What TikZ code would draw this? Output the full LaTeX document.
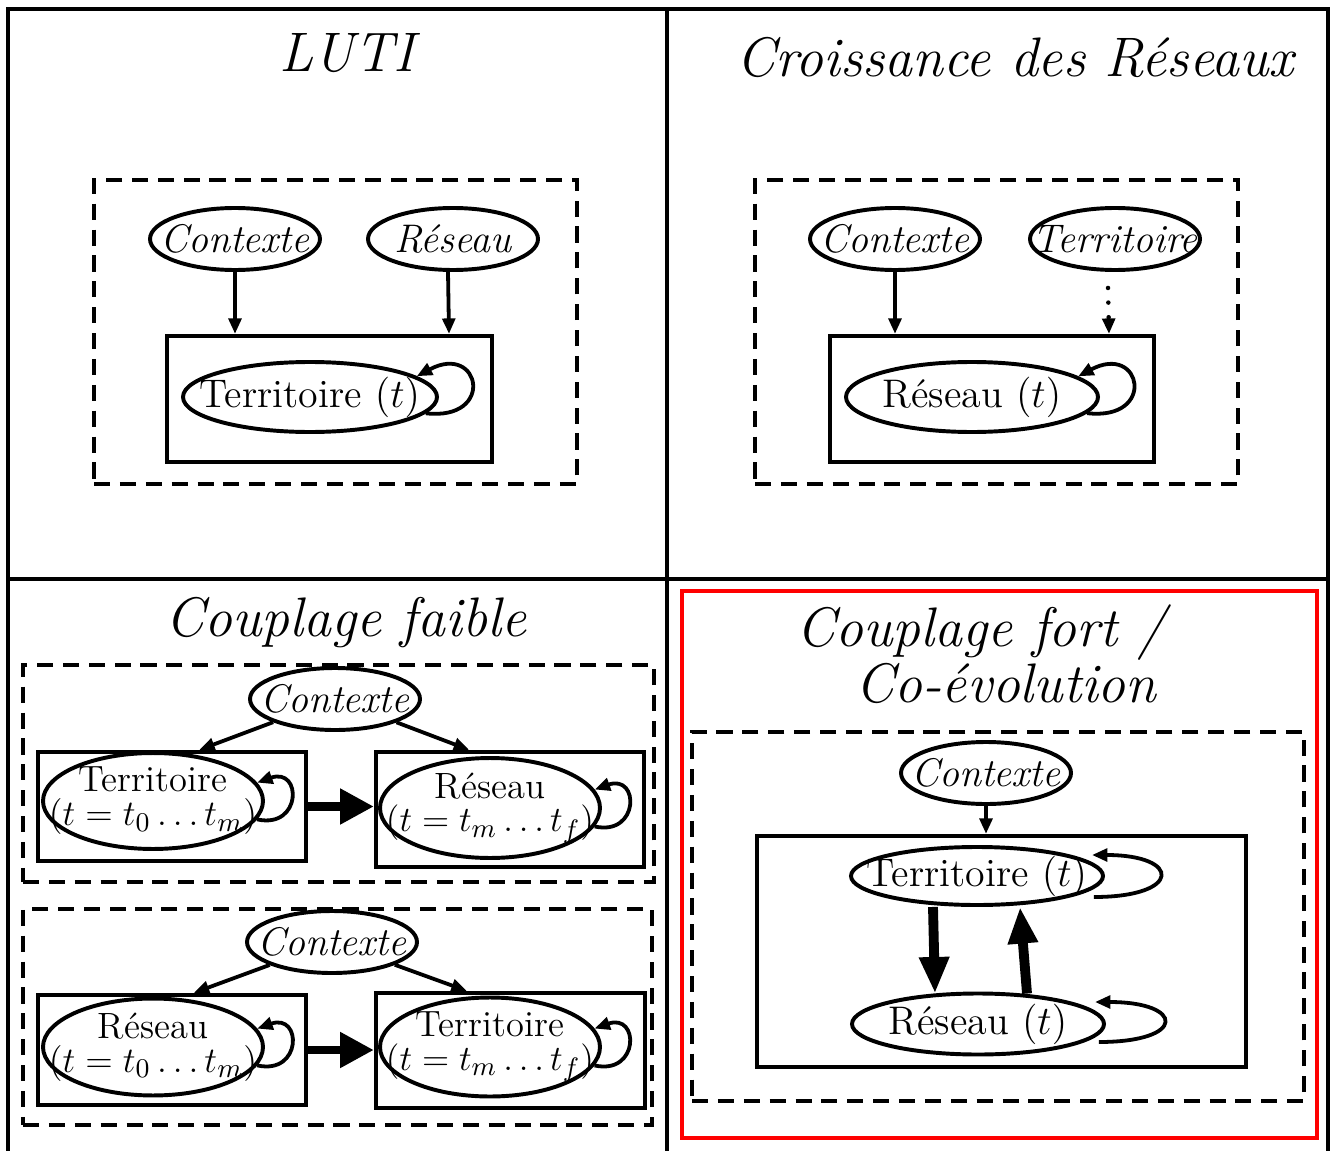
\documentclass[tikz,border=0pt]{standalone}
\usepackage{fontspec}
\usetikzlibrary{arrows.meta,calc,shapes.geometric}
\newcommand{\etiq}[1]{\makebox[0pt]{#1}}
\newcommand{\periode}[2]{\etiq{\raisebox{1.5pt}{\begin{tabular}{@{}c@{}}#1\\\resizebox{2.6cm}{!}{$#2$}\end{tabular}}}}
\begin{document}
\begin{tikzpicture}[x=0.0125cm, y=-0.0125cm,
    cadre/.style={line width=1.1pt},
    bloc/.style={draw, rectangle, inner sep=0pt, line width=1.4pt, dash pattern=on 5.7pt off 3.5pt},
    sys/.style={draw, rectangle, inner sep=0pt, line width=1.5pt},
    var/.style={draw, ellipse, inner sep=0pt, line width=1.4pt, font=\fontsize{14.2}{16}\selectfont},
    var2/.style={var, font=\fontsize{13}{8.3}\selectfont},
    sz/.style 2 args={minimum width=#1*0.0125cm, minimum height=#2*0.0125cm},
    titre/.style={anchor=base, font=\fontsize{19.8}{23}\selectfont\itshape},
    lien/.style={line width=1.35pt, -{Triangle[length=5.5pt,width=4.5pt]}},
    pointille/.style={line width=1.6pt, dash pattern=on 0pt off 5.2pt, line cap=round},
    couplage/.style={line width=3pt, -{Triangle[length=12pt,width=12pt]}},
    fort/.style={line width=3.5pt, -{Triangle[length=13pt,width=10pt]}}]
    \useasboundingbox (0,0) rectangle (1335,1151);

    % grille
    \draw[cadre] (8,1151) -- (8,9) -- (1328,9) -- (1328,1151);
    \draw[cadre] (667,9) -- (667,1151);
    \draw[cadre] (8,579) -- (1328,579);
    \draw[red, line width=1.2pt] (682,591) rectangle (1317,1138);

    % LUTI
    \node[titre] (tLuti) at (347,72) {LUTI};
    \node[bloc, sz={483}{304}] (blocA) at (335.5,332) {};
    \node[var, sz={170}{62}] (ctxA) at (235,239) {\etiq{\itshape Contexte}};
    \node[var, sz={170}{62}] (resA) at (453,239) {\etiq{\itshape Réseau}};
    \node[sys, sz={325}{126}] (sysA) at (329.5,399) {};
    \node[var, sz={254}{70}] (terA) at (310,397) {\etiq{Territoire $(t)$}};
    \draw[lien] (ctxA) -- (ctxA |- sysA.north);
    \draw[lien] ($(resA.south)+(-5,0)$) -- ($(resA |- sysA.north)+(-4,0)$);
    \draw[lien] (terA.-8) .. controls +(70,8) and +(64,-34) .. (terA.11);

    % Croissance des reseaux
    \node[titre] (tCroiss) at (1015,77) {Croissance des Réseaux};
    \node[bloc, sz={483}{304}] (blocB) at (996.5,332) {};
    \node[var, sz={170}{62}] (ctxB) at (895,239) {\etiq{\itshape Contexte}};
    \node[var, sz={170}{62}] (terB) at (1115,239) {\etiq{\itshape Territoire}};
    \node[sys, sz={324}{126}] (sysB) at (992,399) {};
    \node[var, sz={252}{70}] (resB) at (972,397) {\etiq{Réseau $(t)$}};
    \draw[lien] (ctxB) -- (ctxB |- sysB.north);
    \draw[lien, pointille] ($(terB.south)+(-7,16)$) -- ($(terB |- sysB.north)+(-6,0)$);
    \draw[lien] (resB.-8) .. controls +(70,8) and +(64,-34) .. (resB.11);

    % Couplage faible
    \node[titre] (tFaible) at (346,636) {Couplage faible};
    \node[bloc, sz={631}{217}] (blocC) at (338.5,773.5) {};
    \node[var, sz={170}{62}] (ctxC) at (335,699) {\etiq{\itshape Contexte}};
    \node[sys, sz={268}{109}] (sysCl) at (172,806.5) {};
    \node[sys, sz={268}{115}] (sysCr) at (510,809.5) {};
    \node[var2, sz={220}{94}] (terC) at (153,801) {\periode{Territoire}{(t=t_0\ldots t_m)}};
    \node[var2, sz={220}{96}] (resC) at (490,808) {\periode{Réseau}{(t=t_m\ldots t_f)}};
    \draw[lien] (ctxC) -- ($(sysCl.north west)!0.6!(sysCl.north east)$);
    \draw[lien] (ctxC) -- ($(sysCr.north west)!0.35!(sysCr.north east)$);
    \draw[couplage] (sysCl.east) -- (sysCl.east -| sysCr.west);
    \draw[lien] (terC.-10) .. controls +(45,10) and +(45,-16) .. (terC.10);
    \draw[lien] (resC.-10) .. controls +(45,10) and +(45,-16) .. (resC.10);

    \node[bloc, sz={629}{216}] (blocD) at (337.5,1017) {};
    \node[var, sz={170}{62}] (ctxD) at (332,942) {\etiq{\itshape Contexte}};
    \node[sys, sz={268}{110}] (sysDl) at (172,1050) {};
    \node[sys, sz={269}{115}] (sysDr) at (510.5,1050.5) {};
    \node[var2, sz={220}{96}] (resD) at (153,1047) {\periode{Réseau}{(t=t_0\ldots t_m)}};
    \node[var2, sz={220}{96}] (terD) at (490,1047) {\periode{Territoire}{(t=t_m\ldots t_f)}};
    \draw[lien] (ctxD) -- ($(sysDl.north west)!0.58!(sysDl.north east)$);
    \draw[lien] (ctxD) -- ($(sysDr.north west)!0.34!(sysDr.north east)$);
    \draw[couplage] (sysDl.east) -- (sysDl.east -| sysDr.west);
    \draw[lien] (resD.-10) .. controls +(45,10) and +(45,-16) .. (resD.10);
    \draw[lien] (terD.-10) .. controls +(45,10) and +(45,-16) .. (terD.10);

    % Couplage fort
    \node[titre] (tFort) at (981,646) {Couplage fort /};
    \node[titre] (tCoevol) at (1006,702) {Co-évolution};
    \node[bloc, sz={612}{369}] (blocE) at (998,916.5) {};
    \node[var, sz={170}{62}] (ctxE) at (986,773) {\etiq{\itshape Contexte}};
    \node[sys, sz={489}{231}] (sysE) at (1001.5,951.5) {};
    \node[var, sz={252}{58}] (terE) at (977,876) {\etiq{Territoire $(t)$}};
    \node[var, sz={252}{61}] (resE) at (978,1024) {\etiq{Réseau $(t)$}};
    \draw[lien] (ctxE) -- (ctxE |- sysE.north);
    \draw[fort] ($(terE.south)+(-44,0)$) -- ($(resE.north)+(-43,2)$);
    \draw[fort] ($(resE.north)+(49,2)$) -- ($(terE.south)+(43,0)$);
    \draw[lien] ($(terE.east)+(-11,21)$) .. controls +(88,0) and +(90,0) .. ($(terE.east)+(-13,-21)$);
    \draw[lien] ($(resE.east)+(-7,18)$) .. controls +(88,0) and +(90,0) .. ($(resE.east)+(-11,-22)$);
\end{tikzpicture}
\end{document}
